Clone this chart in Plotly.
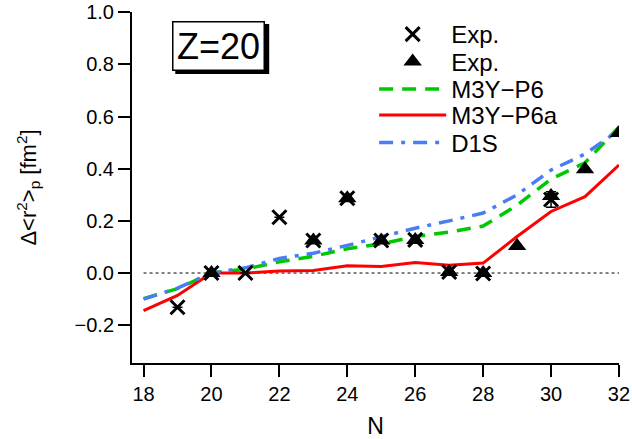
import plotly.graph_objects as go

# ---- data ----
N_model = [18, 19, 20, 21, 22, 23, 24, 25, 26, 27, 28, 29, 30, 31, 32]
m3yp6 = [-0.098, -0.06, 0.0, 0.015, 0.043, 0.064, 0.093, 0.112, 0.14, 0.157, 0.18, 0.26, 0.36, 0.423, 0.56]
m3yp6a = [-0.144, -0.086, 0.0, 0.0, 0.008, 0.01, 0.028, 0.025, 0.04, 0.03, 0.038, 0.14, 0.236, 0.293, 0.414]
d1s = [-0.1, -0.058, 0.0, 0.02, 0.056, 0.076, 0.106, 0.14, 0.172, 0.2, 0.23, 0.3, 0.395, 0.456, 0.548]

N_exp1 = [19, 20, 21, 22, 23, 24, 25, 26, 27, 28, 30]
exp1 = [-0.131, 0.0, 0.0, 0.214, 0.125, 0.287, 0.125, 0.127, 0.004, -0.002, 0.282]
exp1_err = [0, 0, 0, 0, 0, 0, 0, 0, 0, 0, 0.03]

N_exp2 = [20, 23, 24, 25, 26, 27, 28, 29, 30, 31, 32]
exp2 = [0.0, 0.125, 0.287, 0.125, 0.127, 0.004, 0.0, 0.104, 0.295, 0.398, 0.537]

x_ticks = [18, 20, 22, 24, 26, 28, 30, 32]
y_ticks = [-0.2, 0.0, 0.2, 0.4, 0.6, 0.8, 1.0]

FONT = "Liberation Sans"

fig = go.Figure()

fig.add_trace(go.Scatter(x=N_model, y=m3yp6, mode="lines", name="M3Y\u2212P6",
                         line=dict(color="#00c800", width=3.5, dash="14px,9px"),
                         legend="legend3"))
fig.add_trace(go.Scatter(x=N_model, y=m3yp6a, mode="lines", name="M3Y\u2212P6a",
                         line=dict(color="#ff0000", width=3), legend="legend4"))
fig.add_trace(go.Scatter(x=N_model, y=d1s, mode="lines", name="D1S",
                         line=dict(color="#4a7df0", width=3.5, dash="14px,8px,4px,8px"),
                         legend="legend5"))
fig.add_trace(go.Scatter(x=N_exp2, y=exp2, mode="markers", name="Exp.",
                         marker=dict(symbol="triangle-up", size=16, color="black"),
                         legend="legend2"))
fig.add_trace(go.Scatter(x=N_exp1, y=exp1, mode="markers", name="Exp.",
                         error_y=dict(type="data", array=exp1_err, visible=True,
                                      color="black", thickness=1.5, width=5),
                         marker=dict(symbol="x-thin", size=14, color="black",
                                     line=dict(color="black", width=3)),
                         legend="legend"))

# zero reference line
fig.add_shape(type="line", xref="x", yref="y", x0=18, x1=32, y0=0, y1=0,
              line=dict(color="black", width=1, dash="3px,3px"), layer="below")

# target plot area in px: x 131.7..619, y 12..363.3
W, H = 632, 439
L, R, T, B = 131.7, 619.0, 12.0, 363.3
def px(xp):
    return (xp - L) / (R - L)
def py(yp):
    return (B - yp) / (B - T)

# Z=20 box with shadow
fig.add_shape(type="rect", xref="paper", yref="paper",
              x0=px(175), x1=px(269), y0=py(74), y1=py(24),
              fillcolor="black", line=dict(width=0), layer="above")
fig.add_annotation(text="Z=20", xref="paper", yref="paper", x=px(218), y=py(46),
                   xanchor="center", yanchor="middle",
                   showarrow=False, font=dict(family=FONT, size=36, color="black"),
                   bgcolor="white", bordercolor="black", borderwidth=1.5, borderpad=0,
                   width=90, height=47)

legend_common = dict(font=dict(family=FONT, size=24, color="black"),
                     bgcolor="rgba(0,0,0,0)", borderwidth=0, itemwidth=67,
                     x=px(374), xanchor="left", yanchor="middle")
rows = [34.5, 62, 89.5, 115.5, 143]
layout_legends = {}
for i, yy in enumerate(rows):
    key = "legend" if i == 0 else f"legend{i+1}"
    layout_legends[key] = dict(legend_common, y=py(yy))

fig.update_layout(
    width=W, height=H,
    margin=dict(l=L, r=W - R, t=T, b=H - B, autoexpand=False),
    paper_bgcolor="white", plot_bgcolor="white",
    showlegend=True,
    font=dict(family=FONT, color="black"),
    **layout_legends,
)

fig.update_xaxes(range=[17.66, 32.001], tickvals=x_ticks, ticks="outside", ticklen=12,
                 tickwidth=2, tickcolor="black", showline=True, linewidth=2, linecolor="black",
                 showgrid=False, zeroline=False, tickfont=dict(family=FONT, size=20),
                 title=dict(text="N", font=dict(family=FONT, size=23), standoff=14))
fig.update_yaxes(range=[-0.345, 1.001], tickvals=y_ticks, tickformat=".1f", ticks="outside",
                 ticklen=12, tickwidth=2, tickcolor="black", showline=True, linewidth=2,
                 linecolor="black", showgrid=False, zeroline=False,
                 tickfont=dict(family=FONT, size=20),
                 title=dict(text="\u0394&lt;r<sup>2</sup>&gt;<sub>p</sub> [fm<sup>2</sup>]",
                            font=dict(family=FONT, size=22), standoff=32))

fig.write_html("out.html", config={"displayModeBar": False},
               post_script="document.body.style.margin='0';")
